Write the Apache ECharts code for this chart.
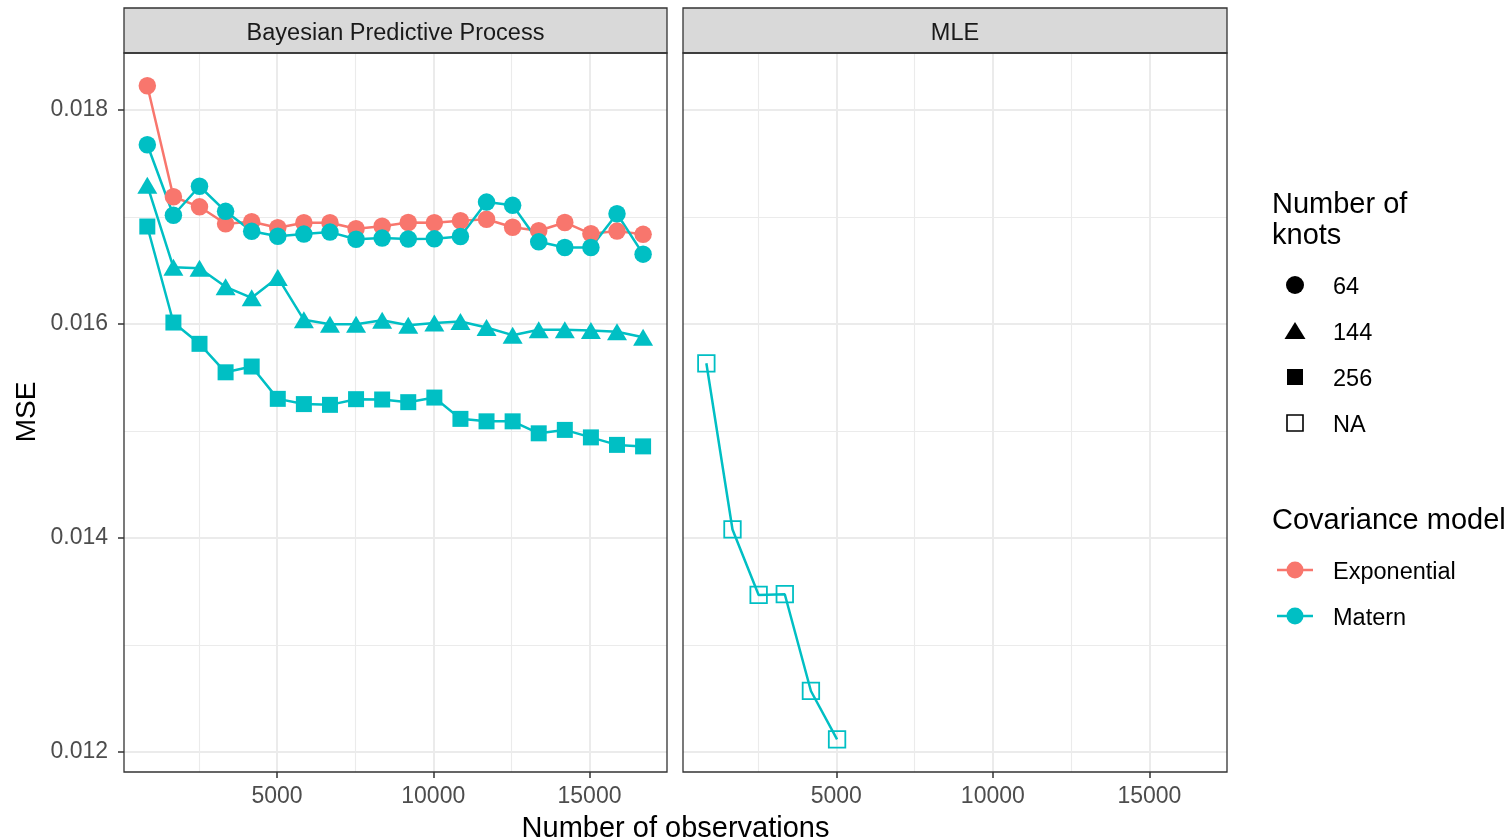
<!DOCTYPE html>
<html>
<head>
<meta charset="utf-8">
<script src="https://cdn.jsdelivr.net/npm/echarts@6/dist/echarts.min.js"></script>
<style>
html,body{margin:0;padding:0;background:#fff;}
#chart{width:1511px;height:839px;}
</style>
</head>
<body>
<div id="chart"></div>
<script>
// ---- data ----
const panels = ['Bayesian Predictive Process', 'MLE'];
const obsBPP = [850, 1685, 2520, 3355, 4190, 5025, 5860, 6695, 7530, 8365, 9200, 10035, 10870, 11705, 12540, 13375, 14210, 15045, 15880, 16715];
const obsMLE = [850, 1685, 2520, 3355, 4190, 5025];
const expo64 = [0.018224, 0.017187, 0.017093, 0.016935, 0.016953, 0.016897, 0.016944, 0.016944, 0.016888, 0.016911, 0.016947, 0.016944, 0.016963, 0.016977, 0.016902, 0.016869, 0.016947, 0.016841, 0.016866, 0.016836];
const matern64 = [0.017673, 0.017014, 0.017285, 0.017051, 0.016864, 0.016818, 0.016838, 0.016857, 0.016790, 0.016801, 0.016792, 0.016794, 0.016816, 0.017137, 0.017107, 0.016766, 0.016713, 0.016713, 0.017028, 0.016651];
const matern144 = [0.017294, 0.016528, 0.016519, 0.016346, 0.016243, 0.016433, 0.016037, 0.015995, 0.015995, 0.016033, 0.015986, 0.016007, 0.016021, 0.015965, 0.015894, 0.015944, 0.015944, 0.015937, 0.015925, 0.015874];
const matern256 = [0.016909, 0.016012, 0.015813, 0.015547, 0.015601, 0.015299, 0.015250, 0.015243, 0.015296, 0.015293, 0.015268, 0.015311, 0.015112, 0.015089, 0.015089, 0.014977, 0.015009, 0.014939, 0.014869, 0.014855];
const mleNA = [0.015631, 0.014079, 0.013467, 0.013474, 0.012570, 0.012117];
const xTicks = [5000, 10000, 15000];
const xMinor = [2500, 7500, 12500];
const yTicks = [0.012, 0.014, 0.016, 0.018];
const yMinor = [0.013, 0.015, 0.017];
const knotLabels = ['64', '144', '256', 'NA'];
const modelLabels = ['Exponential', 'Matern'];

// ---- styling ----
const RED = '#F8766D', TEAL = '#00BFC4';
const FONT = '"Liberation Sans", Arial, Helvetica, sans-serif';
const X_MIN = 104, X_MAX = 17480, Y_MIN = 0.011813, Y_MAX = 0.01853;
const grids = [
  {left: 124, top: 53, width: 543, height: 719},
  {left: 683, top: 53, width: 544, height: 719}
];

function pairs(xs, ys) { return xs.map((x, i) => [x, ys[i]]); }

function gridSeries(idx) {
  const major = {color: '#EBEBEB', width: 2, type: 'solid'};
  const minor = {color: '#EBEBEB', width: 1.1, type: 'solid'};
  const d = [];
  const vx = (v, ls) => d.push([{coord: [v, Y_MIN], lineStyle: ls}, {coord: [v, Y_MAX]}]);
  const hy = (v, ls) => d.push([{coord: [X_MIN, v], lineStyle: ls}, {coord: [X_MAX, v]}]);
  xMinor.forEach(v => vx(v, minor));
  yMinor.forEach(v => hy(v, minor));
  xTicks.forEach(v => vx(v, major));
  yTicks.forEach(v => hy(v, major));
  return {
    type: 'line', xAxisIndex: idx, yAxisIndex: idx, data: [], silent: true, z: 1,
    markLine: {silent: true, symbol: ['none', 'none'], label: {show: false}, z: 1,
      emphasis: {disabled: true}, animation: false, data: d}
  };
}

function dataSeries(name, idx, xs, ys, color, symbol, size, hollow) {
  return {
    name: name, type: 'line', xAxisIndex: idx, yAxisIndex: idx, z: 3,
    data: pairs(xs, ys), symbol: symbol, symbolSize: size, showSymbol: true,
    lineStyle: {color: color, width: 2.5},
    itemStyle: hollow ? {color: 'rgba(255,255,255,0)', borderColor: color, borderWidth: 1.8}
                      : {color: color, borderWidth: 0},
    emphasis: {disabled: true}, silent: true
  };
}

function xAxisCfg(idx) {
  return {
    type: 'value', gridIndex: idx, min: X_MIN, max: X_MAX,
    axisLine: {show: false}, splitLine: {show: false},
    axisTick: {show: true, customValues: xTicks, length: 6, lineStyle: {color: '#333', width: 1.5}},
    axisLabel: {show: true, customValues: xTicks, margin: 13, color: '#4D4D4D', fontSize: 23, fontFamily: FONT,
      formatter: v => String(Math.round(v))}
  };
}
function yAxisCfg(idx) {
  return {
    type: 'value', gridIndex: idx, min: Y_MIN, max: Y_MAX,
    axisLine: {show: false}, splitLine: {show: false},
    axisTick: {show: idx === 0, customValues: yTicks, length: 6, lineStyle: {color: '#333', width: 1.5}},
    axisLabel: {show: idx === 0, customValues: yTicks, margin: 16, color: '#4D4D4D', fontSize: 23, fontFamily: FONT,
      padding: [5, 0, 0, 0], formatter: v => v.toFixed(3)}
  };
}

// ---- decorations (strips, borders, titles, legend) ----
const graphics = [];
grids.forEach((g, i) => {
  graphics.push({type: 'rect', shape: {x: g.left, y: 8, width: g.width, height: 45},
    style: {fill: '#D9D9D9', stroke: '#333', lineWidth: 1.3}, z: 100});
  graphics.push({type: 'text', x: g.left + g.width / 2, y: 34,
    style: {text: panels[i], fill: '#1A1A1A', font: '23.5px ' + FONT, textAlign: 'center', textVerticalAlign: 'middle'}, z: 101});
  graphics.push({type: 'rect', shape: {x: g.left, y: g.top, width: g.width, height: g.height},
    style: {fill: 'none', stroke: '#333', lineWidth: 1.3}, z: 100});
});
graphics.push({type: 'text', x: 27, y: 412, rotation: Math.PI / 2,
  style: {text: 'MSE', fill: '#000', font: '28px ' + FONT, textAlign: 'center', textVerticalAlign: 'middle'}, z: 100});
graphics.push({type: 'text', x: 675.5, y: 829,
  style: {text: 'Number of observations', fill: '#000', font: '29px ' + FONT, textAlign: 'center', textVerticalAlign: 'middle'}, z: 100});

// legend: number of knots
graphics.push({type: 'text', x: 1272, y: 204.5, style: {text: 'Number of', fill: '#000', font: '29px ' + FONT, textVerticalAlign: 'middle'}, z: 100});
graphics.push({type: 'text', x: 1272, y: 235.5, style: {text: 'knots', fill: '#000', font: '29px ' + FONT, textVerticalAlign: 'middle'}, z: 100});
const knotY = [285, 331, 377, 423];
graphics.push({type: 'circle', shape: {cx: 1295, cy: knotY[0], r: 9}, style: {fill: '#000'}, z: 100});
graphics.push({type: 'polygon', shape: {points: [[1295, knotY[1] - 9], [1284.5, knotY[1] + 8], [1305.5, knotY[1] + 8]]}, style: {fill: '#000'}, z: 100});
graphics.push({type: 'rect', shape: {x: 1287, y: knotY[2] - 8, width: 16, height: 16}, style: {fill: '#000'}, z: 100});
graphics.push({type: 'rect', shape: {x: 1287, y: knotY[3] - 8, width: 16, height: 16}, style: {fill: 'none', stroke: '#000', lineWidth: 1.6}, z: 100});
knotLabels.forEach((t, i) => graphics.push({type: 'text', x: 1333, y: knotY[i] + 2.5,
  style: {text: t, fill: '#000', font: '23.5px ' + FONT, textVerticalAlign: 'middle'}, z: 100}));

// legend: covariance model
graphics.push({type: 'text', x: 1272, y: 520.5, style: {text: 'Covariance model', fill: '#000', font: '29px ' + FONT, textVerticalAlign: 'middle'}, z: 100});
const modelY = [570, 616];
[RED, TEAL].forEach((c, i) => {
  graphics.push({type: 'line', shape: {x1: 1277, y1: modelY[i], x2: 1313, y2: modelY[i]}, style: {stroke: c, lineWidth: 2.5}, z: 100});
  graphics.push({type: 'circle', shape: {cx: 1295, cy: modelY[i], r: 8.5}, style: {fill: c}, z: 101});
  graphics.push({type: 'text', x: 1333, y: modelY[i] + 2.5,
    style: {text: modelLabels[i], fill: '#000', font: '23.5px ' + FONT, textVerticalAlign: 'middle'}, z: 100});
});

const option = {
  animation: false,
  backgroundColor: '#FFFFFF',
  grid: grids.map(g => Object.assign({show: true, backgroundColor: '#fff', borderWidth: 0, containLabel: false}, g)),
  xAxis: [xAxisCfg(0), xAxisCfg(1)],
  yAxis: [yAxisCfg(0), yAxisCfg(1)],
  series: [
    gridSeries(0), gridSeries(1),
    dataSeries('Exponential 64', 0, obsBPP, expo64, RED, 'circle', 17.5),
    dataSeries('Matern 64', 0, obsBPP, matern64, TEAL, 'circle', 17.5),
    dataSeries('Matern 144', 0, obsBPP, matern144, TEAL, 'triangle', [20, 17]),
    dataSeries('Matern 256', 0, obsBPP, matern256, TEAL, 'rect', 16),
    dataSeries('Matern NA', 1, obsMLE, mleNA, TEAL, 'rect', 16.5, true)
  ],
  graphic: graphics
};

const chart = echarts.init(document.getElementById('chart'), null, {renderer: 'canvas'});
chart.setOption(option);
</script>
</body>
</html>
